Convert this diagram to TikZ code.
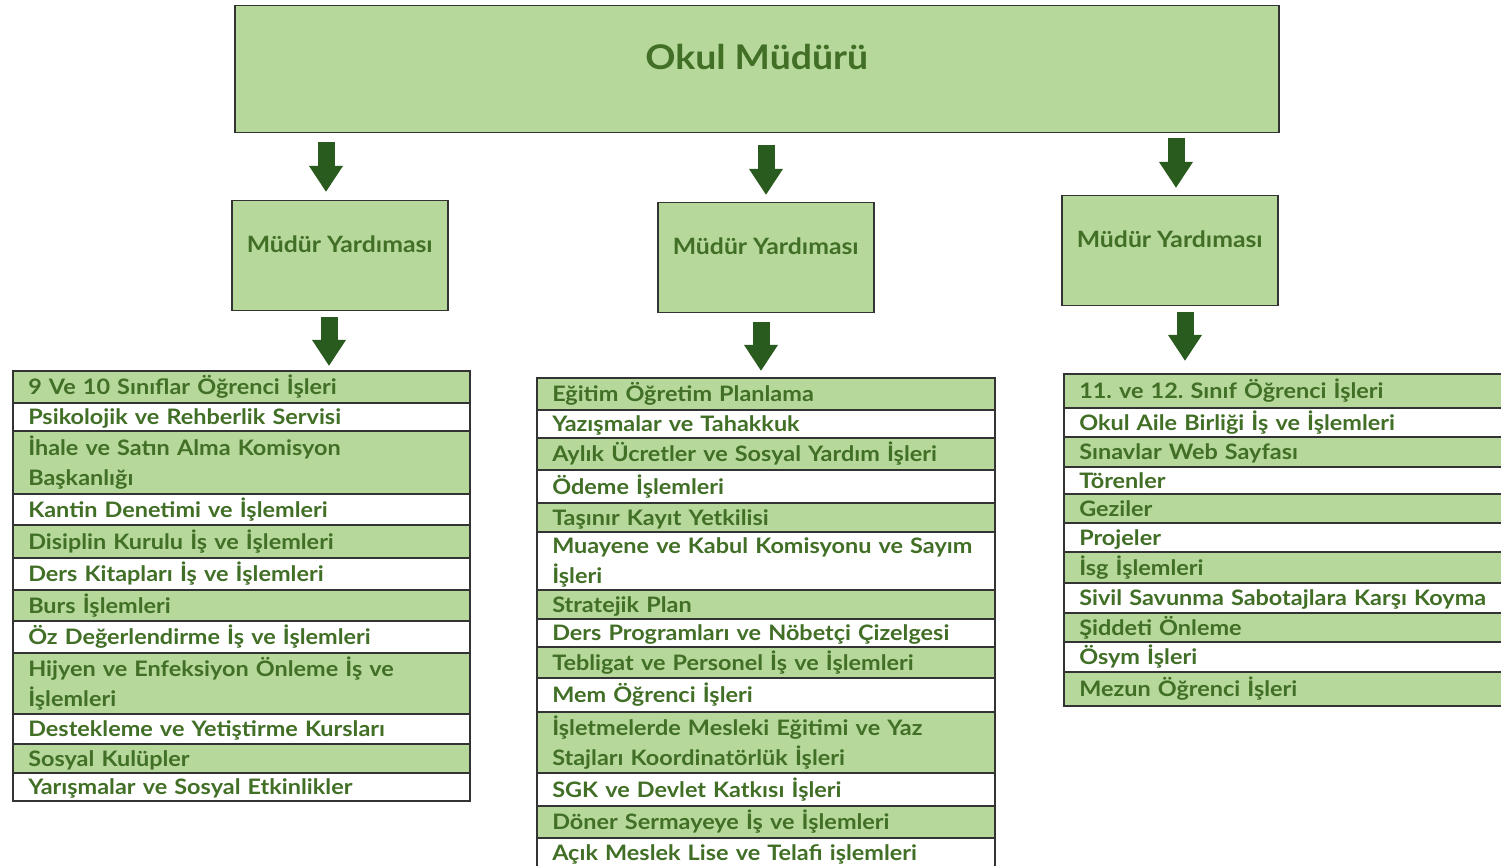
\documentclass[tikz,border=0pt]{standalone}
\usepackage{fontspec}
\setmainfont{Lato}[FakeStretch=1.1]
\usetikzlibrary{arrows.meta}
\definecolor{boxgreen}{HTML}{B6D89B}
\definecolor{txtgreen}{HTML}{416F26}
\definecolor{arrgreen}{HTML}{2A5B1E}
\definecolor{edgegray}{HTML}{333333}
\newcommand\rowstrut{\rule[-4pt]{0pt}{24pt}}
\frenchspacing
\tikzset{
  base/.style={draw=edgegray, line width=1.5pt, text=txtgreen, font=\bfseries},
  topbox/.style={base, fill=boxgreen, anchor=north west, font=\bfseries\fontsize{34}{40}\selectfont,
    text height=25pt, text depth=25pt},
  midbox/.style={base, fill=boxgreen, anchor=north west, minimum width=216pt, minimum height=110pt,
    font=\bfseries\fontsize{22.5}{26}\selectfont, text height=16pt, text depth=22pt},
  rowbase/.style={base, anchor=north west, inner xsep=15.5pt, inner ysep=0pt, align=left,
    font=\bfseries\fontsize{21.3}{30}\selectfont, execute at begin node=\rowstrut, execute at end node=\rowstrut},
  rowg/.style={rowbase, fill=boxgreen},
  roww/.style={rowbase, fill=white},
  lw/.style={text width=426pt},
  mw/.style={text width=427pt},
  rw/.style={text width=436pt},
  fatarrow/.style={draw=arrgreen, line width=17pt, -{Triangle[width=32pt,length=26pt]}}
}
\begin{document}
\begin{tikzpicture}[x=1pt,y=-1pt]
\useasboundingbox (0,0) rectangle (1501,866);
% top
\node[topbox, minimum width=1044pt, minimum height=127pt] (top) at (234,5) {Okul Müdürü};
% assistants
\node[midbox] (ml) at (231,200) {Müdür Yardıması};
\node[midbox] (mm) at (657,202) {Müdür Yardıması};
\node[midbox] (mr) at (1061,195) {Müdür Yardıması};
% left list
\node[rowg,lw,minimum height=32pt] (l1) at (12,370) {9 Ve 10 Sınıflar Öğrenci İşleri};
\node[roww,lw,minimum height=28pt] (l2) at (12,402) {Psikolojik ve Rehberlik Servisi};
\node[rowg,lw,minimum height=63pt] (l3) at (12,430) {İhale ve Satın Alma Komisyon\\Başkanlığı};
\node[roww,lw,minimum height=31pt] (l4) at (12,493) {Kantin Denetimi ve İşlemleri};
\node[rowg,lw,minimum height=33pt] (l5) at (12,524) {Disiplin Kurulu İş ve İşlemleri};
\node[roww,lw,minimum height=32pt] (l6) at (12,557) {Ders Kitapları İş ve İşlemleri};
\node[rowg,lw,minimum height=31pt] (l7) at (12,589) {Burs İşlemleri};
\node[roww,lw,minimum height=32pt] (l8) at (12,620) {Öz Değerlendirme İş ve İşlemleri};
\node[rowg,lw,minimum height=61pt] (l9) at (12,652) {Hijyen ve Enfeksiyon Önleme İş ve\\İşlemleri};
\node[roww,lw,minimum height=30pt] (l10) at (12,713) {Destekleme ve Yetiştirme Kursları};
\node[rowg,lw,minimum height=29pt] (l11) at (12,743) {Sosyal Kulüpler};
\node[roww,lw,minimum height=28pt] (l12) at (12,772) {Yarışmalar ve Sosyal Etkinlikler};
% middle list
\node[rowg,mw,minimum height=32pt] (m1) at (536,377) {Eğitim Öğretim Planlama};
\node[roww,mw,minimum height=28pt] (m2) at (536,409) {Yazışmalar ve Tahakkuk};
\node[rowg,mw,minimum height=32pt] (m3) at (536,437) {Aylık Ücretler ve Sosyal Yardım İşleri};
\node[roww,mw,minimum height=33pt] (m4) at (536,469) {Ödeme İşlemleri};
\node[rowg,mw,minimum height=29pt] (m5) at (536,502) {Taşınır Kayıt Yetkilisi};
\node[roww,mw,minimum height=58pt] (m6) at (536,531) {Muayene ve Kabul Komisyonu ve Sayım\\İşleri};
\node[rowg,mw,minimum height=29pt] (m7) at (536,589) {Stratejik Plan};
\node[roww,mw,minimum height=28pt] (m8) at (536,618) {Ders Programları ve Nöbetçi Çizelgesi};
\node[rowg,mw,minimum height=31pt] (m9) at (536,646) {Tebligat ve Personel İş ve İşlemleri};
\node[roww,mw,minimum height=34pt] (m10) at (536,677) {Mem Öğrenci İşleri};
\node[rowg,mw,minimum height=61pt] (m11) at (536,711) {İşletmelerde Mesleki Eğitimi ve Yaz\\Stajları Koordinatörlük İşleri};
\node[roww,mw,minimum height=33pt] (m12) at (536,772) {SGK ve Devlet Katkısı İşleri};
\node[rowg,mw,minimum height=32pt] (m13) at (536,805) {Döner Sermayeye İş ve İşlemleri};
\node[roww,mw,minimum height=29pt] (m14) at (536,837) {Açık Meslek Lise ve Telafi işlemleri};
% right list
\node[rowg,rw,minimum height=34pt] (r1) at (1063,373) {11. ve 12. Sınıf Öğrenci İşleri};
\node[roww,rw,minimum height=29pt] (r2) at (1063,407) {Okul Aile Birliği İş ve İşlemleri};
\node[rowg,rw,minimum height=30pt] (r3) at (1063,436) {Sınavlar Web Sayfası};
\node[roww,rw,minimum height=27pt] (r4) at (1063,466) {Törenler};
\node[rowg,rw,minimum height=29pt] (r5) at (1063,493) {Geziler};
\node[roww,rw,minimum height=29pt] (r6) at (1063,522) {Projeler};
\node[rowg,rw,minimum height=31pt] (r7) at (1063,551) {İsg İşlemleri};
\node[roww,rw,minimum height=30pt] (r8) at (1063,582) {Sivil Savunma Sabotajlara Karşı Koyma};
\node[rowg,rw,minimum height=29pt] (r9) at (1063,612) {Şiddeti Önleme};
\node[roww,rw,minimum height=30pt] (r10) at (1063,641) {Ösym İşleri};
\node[rowg,rw,minimum height=34pt] (r11) at (1063,671) {Mezun Öğrenci İşleri};
% arrows
\coordinate (a1s) at (326,142); \coordinate (a1e) at (326,192);
\coordinate (a2s) at (766,145); \coordinate (a2e) at (766,195);
\coordinate (a3s) at (1176,138); \coordinate (a3e) at (1176,188);
\coordinate (b1s) at (329,317); \coordinate (b1e) at (329,366);
\coordinate (b2s) at (761,322); \coordinate (b2e) at (761,371);
\coordinate (b3s) at (1185,312); \coordinate (b3e) at (1185,361);
\draw[fatarrow] (a1s) -- (a1e);
\draw[fatarrow] (a2s) -- (a2e);
\draw[fatarrow] (a3s) -- (a3e);
\draw[fatarrow] (b1s) -- (b1e);
\draw[fatarrow] (b2s) -- (b2e);
\draw[fatarrow] (b3s) -- (b3e);
\end{tikzpicture}
\end{document}
